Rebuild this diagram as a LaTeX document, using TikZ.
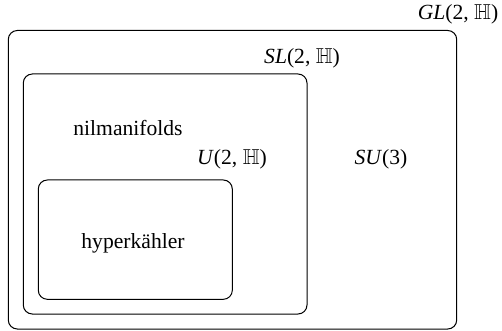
\documentclass[tikz,border=0pt]{standalone}
\usepackage{fontspec}
\usepackage{amssymb}
\setmainfont{Liberation Serif}
\usetikzlibrary{positioning}

\begin{document}
\begin{tikzpicture}[
    x=0.5pt, y=-0.5pt,
    set/.style={draw, line width=0.5pt, rounded corners=4.5pt},
    lbl/.style={font=\fontsize{10.8}{13}\selectfont, inner sep=0pt}
  ]
    \useasboundingbox (0,0) rectangle (502,331);

    % nested classes of manifolds
    \draw[set] (8.3,30.5) rectangle (456.7,329);
    \draw[set] (23.3,74) rectangle (307,314);
    \draw[set] (38.3,180) rectangle (232.3,299.3);

    \node[lbl] (gl) at (458,14) {\textit{GL}(2, $\mathbb{H}$)};
    \node[lbl] (sl) at (302,58) {\textit{SL}(2, $\mathbb{H}$)};
    \node[lbl] (nil) at (128,128) {nilmanifolds};
    \node[lbl] (u) at (232,159) {\textit{U}(2, $\mathbb{H}$)};
    \node[lbl] (su) at (381,159) {\textit{SU}(3)};
    \node[lbl] (hk) at (133,243) {hyperkähler};
  \end{tikzpicture}
\end{document}
